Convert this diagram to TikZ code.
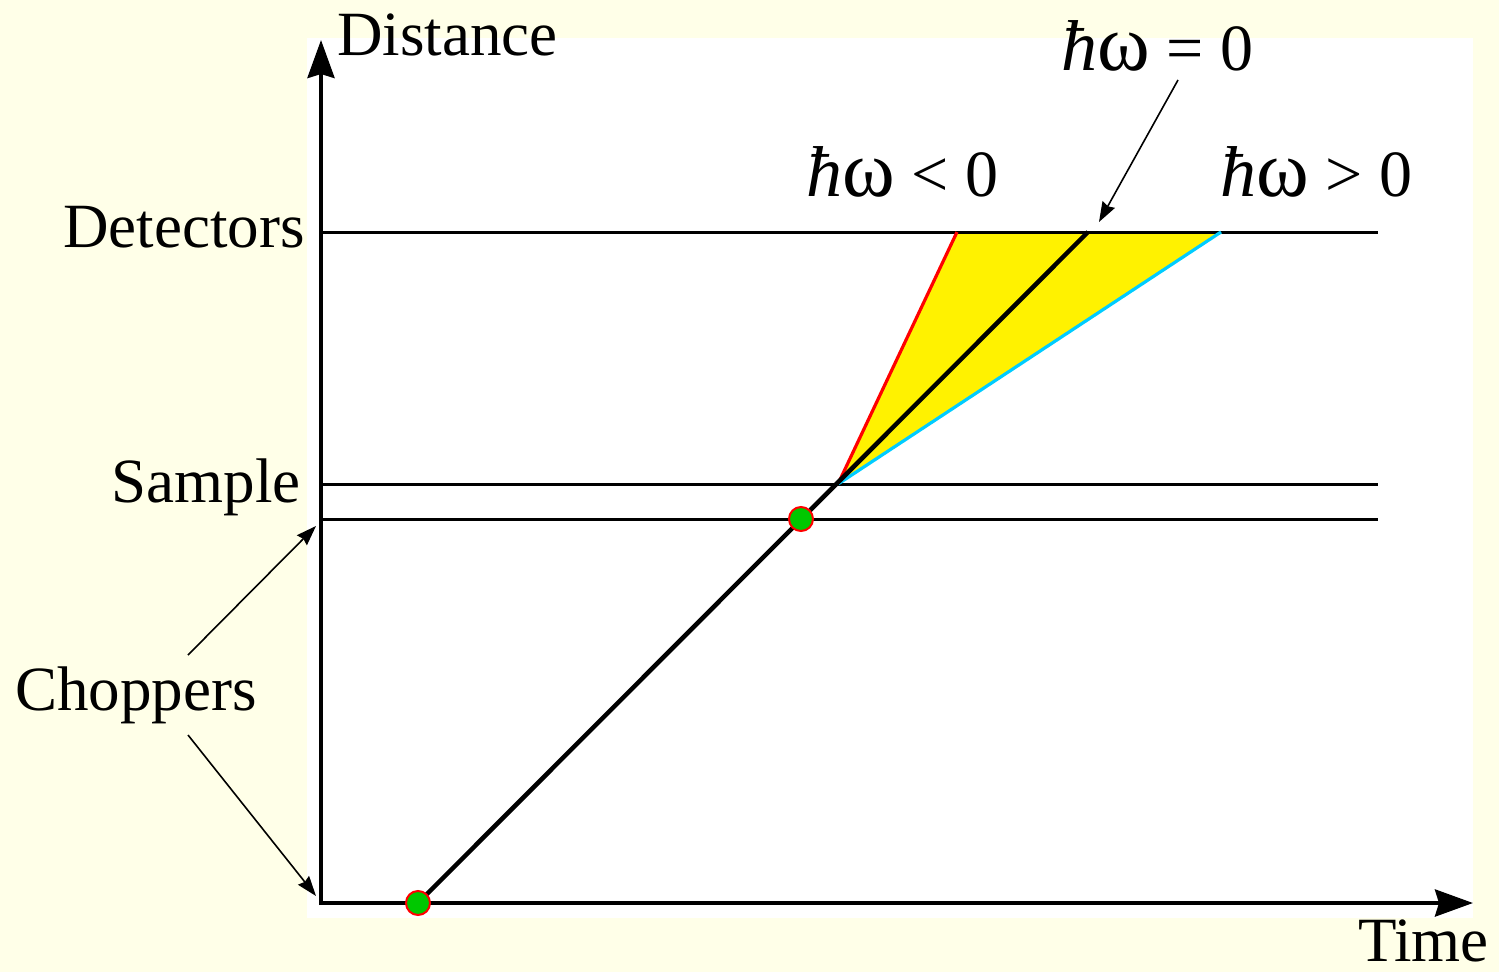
\documentclass[tikz,border=0pt]{standalone}
\usepackage{fontspec}
\setmainfont{Liberation Serif}
\usetikzlibrary{arrows.meta}
\definecolor{bgyellow}{RGB}{255,255,232}
\definecolor{dotgreen}{RGB}{0,200,0}
\definecolor{lineblue}{RGB}{0,204,255}
\newcommand{\hw}{{\fontsize{72}{80}\selectfont\textit{ħ}{\fontsize{80}{84}\selectfont ω}}}
\begin{document}
\begin{tikzpicture}[x=1pt,y=-1pt,
  lbl/.style={font=\fontsize{63}{70}\selectfont, inner sep=0pt},
  elbl/.style={font=\fontsize{66}{72}\selectfont, inner sep=0pt},
  axis/.style={line width=4pt, -{Stealth[length=38pt,width=27pt,inset=4pt]}},
  level/.style={line width=3pt},
  ptr/.style={line width=1.6pt, -{Stealth[length=20pt,width=14pt,inset=2pt]}},
  dot/.style={circle, fill=dotgreen, draw=red, line width=2pt, minimum size=24pt, inner sep=0pt}]
\useasboundingbox (0,0) rectangle (1499,972);
\fill[bgyellow] (0,0) rectangle (1499,972);
\fill[white] (307,38) rectangle (1473,918);
% coordinates
\coordinate (O) at (321,903);
\coordinate (ytip) at (321,40);
\coordinate (xtip) at (1473,903);
\coordinate (S) at (838,484);
\coordinate (Dr) at (957,232);
\coordinate (D0) at (1088,232);
\coordinate (Db) at (1221,232);
\coordinate (detL) at (321,232);
\coordinate (detR) at (1378,232);
\coordinate (samL) at (321,484);
\coordinate (samR) at (1378,484);
\coordinate (chL) at (321,519);
\coordinate (chR) at (1378,519);
% fill
\fill[yellow] (S) -- (Dr) -- (Db) -- cycle;
% levels
\draw[level] (detL) -- (detR);
\draw[level] (samL) -- (samR);
\draw[level] (chL) -- (chR);
% trajectories
\draw[red, line width=3.2pt] (S) -- (Dr);
\draw[lineblue, line width=3.2pt] (S) -- (Db);
\coordinate (c1pos) at (418,903);
\draw[line width=4.5pt] (c1pos) -- (D0);
% axes
\draw[axis] (321,905) -- (ytip);
\draw[axis] (319,903) -- (xtip);
% choppers
\node[dot] (c1) at (c1pos) {};
\node[dot] (c2) at (801,519) {};
% labels
\node[lbl, anchor=base west] (dist) at (337,55) {Distance};
\node[lbl, anchor=base east] (time) at (1489,961) {Time};
\node[lbl, anchor=base east] (det) at (305,247) {Detectors};
\node[lbl, anchor=base east] (sam) at (301,502) {Sample};
\node[lbl, anchor=base west] (chop) at (15,710) {Choppers};
\node[elbl, anchor=base west] (e0) at (1061,70) {\hw{} = 0};
\node[elbl, anchor=base west] (eneg) at (806,196) {\hw{} < 0};
\node[elbl, anchor=base west] (epos) at (1220,196) {\hw{} > 0};
% pointers
\coordinate (p0s) at (1178,80);
\coordinate (p0e) at (1099,222);
\draw[ptr] (p0s) -- (p0e);
\coordinate (pc1s) at (188,655);
\coordinate (pc1e) at (316,526);
\coordinate (pc2s) at (188,735);
\coordinate (pc2e) at (316,896);
\draw[ptr] (pc1s) -- (pc1e);
\draw[ptr] (pc2s) -- (pc2e);
\end{tikzpicture}
\end{document}
